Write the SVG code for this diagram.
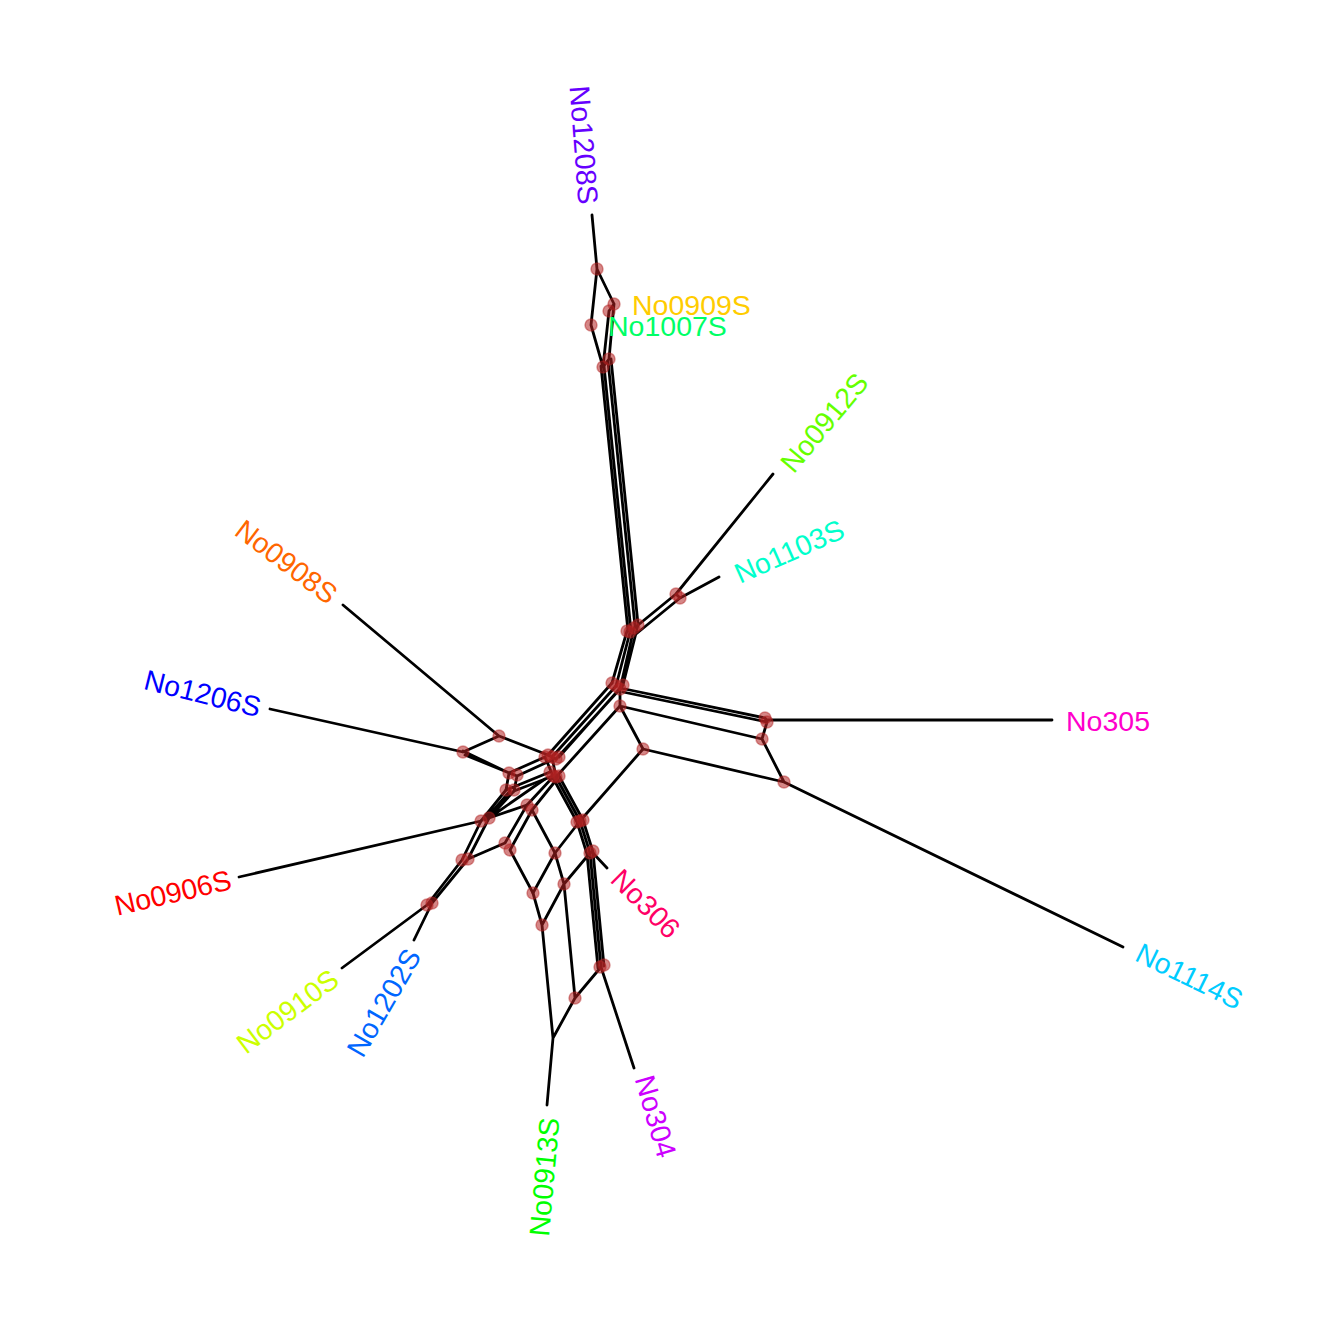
<svg xmlns="http://www.w3.org/2000/svg" width="1344" height="1344" viewBox="0 0 1344 1344">
<style>
.e{stroke:#000;stroke-width:2.8;fill:none;stroke-linecap:round;stroke-linejoin:round}
.n circle{fill:#B22222;fill-opacity:0.55;stroke:#B22222;stroke-opacity:0.45;stroke-width:1.5}
text{font-family:"Liberation Sans",Arial,Helvetica,sans-serif;font-size:28.5px}
</style>
<rect width="1344" height="1344" fill="#fff"/>
<g id="connectors" class="e">
<path d="M592,215L597,269M597,269L614,304M597,269L591,325M614,304L609,311M614,304L609,359M609,311L603,367M591,325L603,367M609,359L603,367"/>
<path d="M601,366L628,631M604,366L631,631M608,361L635,626M611,359L638,624"/>
<path d="M632,630L676,594M636,634L680,598M676,594L773,474M680,598L719,577M676,594L680,598"/>
<path d="M627,631L612,683M630,632L616,686M634,628L620,689M638,625L623,685"/>
<path d="M620,688L765,718M623,692L767,722M765,718L767,722M620,689L620,706M620,706L762,739M767,722L762,739M620,706L643,749M643,749L784,782M762,739L784,782M767,720L1052,720M784,782L1123,947"/>
<path d="M612,683L548,755M616,686L552,757M620,689L556,759M623,685L559,757M620,706L556,777M643,749L580,821"/>
<path d="M548,755L552,757L556,759M552,757L556,777M545,757L553,776"/>
<path d="M499,736L548,755M499,736L463,752M463,752L270,709M499,736L343,605"/>
<path d="M463,751L509,773M465,755L517,776M509,773L545,757M517,776L552,760M509,773L506,790M517,776L514,791M553,776L514,791M550,772L506,790"/>
<path d="M506,790L481,821M510,791L485,820M514,791L489,818M553,777L527,805M557,779L532,810M527,805L489,818M489,818L545,779M481,821L239,877"/>
<path d="M532,810L555,853M527,805L505,843M532,810L510,850M481,821L462,860M489,818L468,859M505,843L468,859M510,850L533,893M462,860L427,905M468,859L432,903M427,905L432,903M432,903L414,940M427,905L342,968"/>
<path d="M553,778L577,822M556,777L580,821M559,776L583,820M577,822L587,854M580,821L590,853M583,820L593,852M587,854L598,968M590,853L601,967M593,852L604,966"/>
<path d="M580,821L555,853L533,893M590,853L564,884L542,925M555,853L564,884M533,893L542,925M564,884L575,998M542,925L553,1038M575,998L601,967M553,1038L575,998M601,967L634,1068M592,852L607,868M553,1038L547,1105"/>
</g>
<g id="n_top" class="n"><circle cx="597" cy="269" r="6"/><circle cx="591" cy="325" r="6"/><circle cx="614" cy="304" r="6"/><circle cx="609" cy="311" r="6"/><circle cx="609" cy="359" r="6"/><circle cx="603" cy="367" r="6"/></g>
<g id="n_hub" class="n"><circle cx="627" cy="631" r="6"/><circle cx="630" cy="632" r="6"/><circle cx="634" cy="628" r="6"/><circle cx="638" cy="625" r="6"/><circle cx="676" cy="594" r="6"/><circle cx="680" cy="598" r="6"/></g>
<g id="n_mid" class="n"><circle cx="612" cy="683" r="6"/><circle cx="616" cy="686" r="6"/><circle cx="620" cy="689" r="6"/><circle cx="623" cy="685" r="6"/><circle cx="620" cy="706" r="6"/><circle cx="643" cy="749" r="6"/><circle cx="765" cy="718" r="6"/><circle cx="767" cy="722" r="6"/><circle cx="762" cy="739" r="6"/><circle cx="784" cy="782" r="6"/></g>
<g id="n_center" class="n"><circle cx="545" cy="757" r="6"/><circle cx="548" cy="755" r="6"/><circle cx="552" cy="757" r="6"/><circle cx="556" cy="759" r="6"/><circle cx="559" cy="757" r="6"/><circle cx="550" cy="772" r="6"/><circle cx="553" cy="776" r="6"/><circle cx="556" cy="777" r="6"/><circle cx="559" cy="776" r="6"/></g>
<g id="n_left" class="n"><circle cx="499" cy="736" r="6"/><circle cx="463" cy="752" r="6"/><circle cx="509" cy="773" r="6"/><circle cx="517" cy="775" r="6"/><circle cx="506" cy="790" r="6"/><circle cx="514" cy="790" r="6"/><circle cx="527" cy="805" r="6"/><circle cx="532" cy="810" r="6"/><circle cx="481" cy="821" r="6"/><circle cx="489" cy="818" r="6"/><circle cx="505" cy="843" r="6"/><circle cx="510" cy="850" r="6"/><circle cx="462" cy="860" r="6"/><circle cx="468" cy="859" r="6"/><circle cx="427" cy="905" r="6"/><circle cx="432" cy="903" r="6"/></g>
<g id="n_low" class="n"><circle cx="577" cy="822" r="6"/><circle cx="580" cy="821" r="6"/><circle cx="583" cy="820" r="6"/><circle cx="555" cy="853" r="6"/><circle cx="533" cy="893" r="6"/><circle cx="590" cy="853" r="6"/><circle cx="593" cy="851" r="6"/><circle cx="564" cy="884" r="6"/><circle cx="542" cy="925" r="6"/><circle cx="600" cy="967" r="6"/><circle cx="604" cy="965" r="6"/><circle cx="575" cy="998" r="6"/></g>
<g id="No1208S"><text transform="translate(579.5,85.7) rotate(85.7)" dy="0.35em" fill="#6600FF">No1208S</text></g>
<g id="No0909S"><text x="632" y="305" dy="0.35em" fill="#FFCC00">No0909S</text></g>
<g id="No1007S"><text x="608" y="326" dy="0.35em" fill="#00FF66">No1007S</text></g>
<g id="No0912S"><text transform="translate(786,468) rotate(-50)" dy="0.35em" fill="#66FF00">No0912S</text></g>
<g id="No1103S"><text transform="translate(736,575) rotate(-24)" dy="0.35em" fill="#00FFCC">No1103S</text></g>
<g id="No305"><text x="1066" y="721" dy="0.35em" fill="#FF00CC">No305</text></g>
<g id="No1114S"><text transform="translate(1138,951) rotate(26)" dy="0.35em" fill="#00CCFF">No1114S</text></g>
<g id="No304"><text transform="translate(644,1076) rotate(73.8)" dy="0.35em" fill="#CC00FF">No304</text></g>
<g id="No306"><text transform="translate(616,874) rotate(45)" dy="0.35em" fill="#FF0066">No306</text></g>
<g id="No0913S"><text transform="translate(539,1236) rotate(-84.9)" dy="0.35em" fill="#00FF00">No0913S</text></g>
<g id="No1202S"><text transform="translate(354,1054) rotate(-60)" dy="0.35em" fill="#0066FF">No1202S</text></g>
<g id="No0910S"><text transform="translate(240,1047) rotate(-37)" dy="0.35em" fill="#CCFF00">No0910S</text></g>
<g id="No0906S"><text transform="translate(115,906) rotate(-13)" dy="0.35em" fill="#FF0000">No0906S</text></g>
<g id="No1206S"><text transform="translate(145,679) rotate(14)" dy="0.35em" fill="#0000FF">No1206S</text></g>
<g id="No0908S"><text transform="translate(239,526) rotate(37)" dy="0.35em" fill="#FF6600">No0908S</text></g>
</svg>
